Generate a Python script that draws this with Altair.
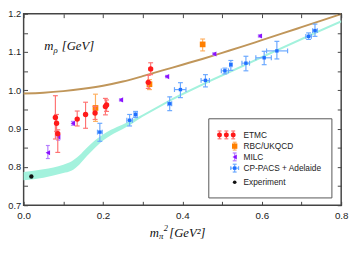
import altair as alt
import pandas as pd

# ---------------- data ----------------
etmc_x = [0.080, 0.083, 0.086, 0.135, 0.156, 0.180, 0.206, 0.209, 0.314, 0.320]
etmc_y = [0.929, 0.914, 0.887, 0.925, 0.937, 0.941, 0.958, 0.962, 1.021, 1.056]
etmc_lo = [0.873, 0.893, 0.838, 0.907, 0.901, 0.924, 0.936, 0.945, 1.005, 1.041]
etmc_hi = [0.986, 0.937, 0.897, 0.946, 0.969, 0.958, 0.979, 0.975, 1.039, 1.072]

rbc_x = [0.181, 0.317, 0.451]
rbc_y = [0.954, 1.016, 1.120]
rbc_lo = [0.919, 1.002, 1.103]
rbc_hi = [0.990, 1.028, 1.134]

milc_x = [0.061, 0.087, 0.124, 0.245, 0.361, 0.480, 0.595]
milc_y = [0.837, 0.878, 0.914, 0.975, 1.036, 1.095, 1.142]
milc_lo = [0.822, 0.870, 0.909, 0.972, 1.033, 1.092, 1.139]
milc_hi = [0.856, 0.890, 0.919, 0.978, 1.039, 1.098, 1.145]

cp_x = [0.192, 0.267, 0.282, 0.368, 0.395, 0.458, 0.507, 0.522, 0.560, 0.606, 0.638, 0.718, 0.734]
cp_xlo = [0.186, 0.260, 0.278, 0.363, 0.380, 0.447, 0.498, 0.519, 0.550, 0.585, 0.612, 0.711, 0.728]
cp_xhi = [0.198, 0.274, 0.286, 0.373, 0.409, 0.468, 0.516, 0.525, 0.569, 0.624, 0.665, 0.725, 0.740]
cp_y = [0.891, 0.922, 0.937, 0.965, 1.002, 1.026, 1.051, 1.067, 1.071, 1.085, 1.103, 1.141, 1.156]
cp_ylo = [0.867, 0.907, 0.929, 0.947, 0.981, 1.009, 1.043, 1.052, 1.051, 1.067, 1.082, 1.133, 1.141]
cp_yhi = [0.914, 0.937, 0.945, 0.983, 1.020, 1.041, 1.058, 1.078, 1.089, 1.102, 1.128, 1.150, 1.173]

exp_x = [0.0195]
exp_y = [0.775]

brown_x = [0.0, 0.05, 0.1, 0.15, 0.2, 0.25, 0.3, 0.35, 0.4, 0.45, 0.5, 0.55, 0.6, 0.65, 0.7, 0.75, 0.8]
brown_y = [0.992, 0.994, 0.998, 1.004, 1.012, 1.023, 1.037, 1.052, 1.067, 1.082, 1.098, 1.114, 1.131, 1.148, 1.165, 1.182, 1.199]

band_x = [0.0, 0.05, 0.1, 0.12, 0.14, 0.16, 0.18, 0.2, 0.22, 0.25, 0.27, 0.3, 0.35, 0.4, 0.45, 0.5, 0.6, 0.7, 0.8]
band_lo = [0.765, 0.772, 0.784, 0.790, 0.806, 0.829, 0.850, 0.869, 0.883, 0.899, 0.911, 0.931, 0.960, 0.987, 1.012, 1.036, 1.084, 1.131, 1.177]
band_hi = [0.787, 0.794, 0.806, 0.814, 0.830, 0.851, 0.870, 0.885, 0.897, 0.911, 0.921, 0.937, 0.966, 0.993, 1.018, 1.042, 1.090, 1.137, 1.183]

legend_labels = ["ETMC", "RBC/UKQCD", "MILC", "CP-PACS + Adelaide", "Experiment"]

x_label_vals = [0.0, 0.2, 0.4, 0.6, 0.8]
x_tick_vals = [0.0, 0.1, 0.2, 0.3, 0.4, 0.5, 0.6, 0.7, 0.8]
y_label_vals = [0.7, 0.8, 0.9, 1.0, 1.1, 1.2]
y_tick_vals = [0.7, 0.75, 0.8, 0.85, 0.9, 0.95, 1.0, 1.05, 1.1, 1.15, 1.2]

# ---------------- styling ----------------
W, H = 325, 196
CYAN = "#a3f2dd"
BROWN = "#c0965a"
RED, RED_E = "#ff1a1a", "#ff7373"
ORG, ORG_E = "#ff7f00", "#ffb060"
PUR, PUR_E = "#8a12ff", "#b47cff"
BLU, BLU_E = "#1f6fff", "#6aa8ff"
TICK_C = "#444444"

xs = alt.Scale(domain=[0.0, 0.8], nice=False, zero=False)
ys = alt.Scale(domain=[0.7, 1.2], nice=False, zero=False)

ax_x_main = alt.Axis(orient="bottom", values=x_label_vals, format=".1f", ticks=False, tickSize=0,
                     domain=False, grid=False, title=None, labelFont="Liberation Sans", labelFlush=False,
                     labelFontSize=10, labelPadding=6, labelColor="#222222")
ax_x_bot = alt.Axis(orient="top", offset=-H, values=x_tick_vals, labels=False, ticks=True, tickSize=4,
                    tickColor=TICK_C, tickWidth=1, domain=False, grid=False, title=None, zindex=1)
ax_x_top = alt.Axis(orient="bottom", offset=-H, values=x_tick_vals, labels=False, ticks=True, tickSize=4,
                    tickColor=TICK_C, tickWidth=1, domain=False, grid=False, title=None, zindex=1)
ax_y_main = alt.Axis(orient="left", values=y_label_vals, format=".1f", ticks=False, tickSize=0,
                     domain=False, grid=False, title=None, labelFont="Liberation Sans", labelFlush=False,
                     labelFontSize=9.5, labelPadding=3, labelColor="#222222")
ax_y_left = alt.Axis(orient="right", offset=-W, values=y_tick_vals, labels=False, ticks=True, tickSize=4,
                     tickColor=TICK_C, tickWidth=1, domain=False, grid=False, title=None, zindex=1)
ax_y_right = alt.Axis(orient="left", offset=-W, values=y_tick_vals, labels=False, ticks=True, tickSize=4,
                      tickColor=TICK_C, tickWidth=1, domain=False, grid=False, title=None, zindex=1)

band_df = pd.DataFrame({"x": band_x, "lo": band_lo, "hi": band_hi})
brown_df = pd.DataFrame({"x": brown_x, "y": brown_y})
etmc_df = pd.DataFrame({"x": etmc_x, "y": etmc_y, "lo": etmc_lo, "hi": etmc_hi})
rbc_df = pd.DataFrame({"x": rbc_x, "y": rbc_y, "lo": rbc_lo, "hi": rbc_hi})
milc_df = pd.DataFrame({"x": milc_x, "y": milc_y, "lo": milc_lo, "hi": milc_hi})
cp_df = pd.DataFrame({"x": cp_x, "xlo": cp_xlo, "xhi": cp_xhi, "y": cp_y, "lo": cp_ylo, "hi": cp_yhi})
exp_df = pd.DataFrame({"x": exp_x, "y": exp_y})
one = pd.DataFrame({"a": [0]})


def X(f, axis=None):
    return alt.X(f, type="quantitative", scale=xs, axis=axis)


def Y(f, axis=None):
    return alt.Y(f, type="quantitative", scale=ys, axis=axis)


def vbars(df, color, cap=5, sw=1.2):
    rule = alt.Chart(df).mark_rule(color=color, strokeWidth=sw).encode(x=X("x"), y=Y("lo"), y2="hi:Q")
    caps = alt.Chart(df).transform_fold(["lo", "hi"], as_=["k", "v"]).mark_tick(
        orient="horizontal", color=color, size=cap, thickness=sw, opacity=1).encode(x=X("x"), y=Y("v"))
    return [rule, caps]


def hbars(df, color, cap=5, sw=1.2):
    rule = alt.Chart(df).mark_rule(color=color, strokeWidth=sw).encode(x=X("xlo"), x2="xhi:Q", y=Y("y"))
    caps = alt.Chart(df).transform_fold(["xlo", "xhi"], as_=["k", "v"]).mark_tick(
        orient="vertical", color=color, size=cap, thickness=sw, opacity=1).encode(x=X("v"), y=Y("y"))
    return [rule, caps]


layers = []
layers.append(alt.Chart(band_df).mark_area(color=CYAN, interpolate="monotone", opacity=1).encode(
    x=X("x", ax_x_main), y=Y("lo", ax_y_main), y2="hi:Q"))
layers.append(alt.Chart(brown_df).mark_line(color=BROWN, strokeWidth=2, interpolate="monotone").encode(
    x=X("x", ax_x_bot), y=Y("y", ax_y_left)))

layers += vbars(milc_df, PUR_E, 4)
layers.append(alt.Chart(milc_df).mark_point(shape="triangle-left", filled=True, color=PUR, size=28, opacity=1).encode(
    x=X("x"), y=Y("y")))
layers += hbars(cp_df, BLU_E, 5)
layers += vbars(cp_df, BLU_E, 5)
layers.append(alt.Chart(cp_df).mark_square(color=BLU, size=12, opacity=1).encode(x=X("x"), y=Y("y")))
layers += vbars(rbc_df, ORG_E, 5)
layers.append(alt.Chart(rbc_df).mark_square(color=ORG, size=34, opacity=1).encode(x=X("x"), y=Y("y")))
layers += vbars(etmc_df, RED_E, 5)
layers.append(alt.Chart(etmc_df).mark_circle(color=RED, size=30, opacity=1).encode(x=X("x"), y=Y("y")))
layers.append(alt.Chart(exp_df).mark_circle(color="#111111", size=20, opacity=1).encode(
    x=X("x", ax_x_top), y=Y("y", ax_y_right)))

# ---------------- annotations (pixel positions inside the plot group) ----------------
SERIF = "Liberation Serif"


def txt(t, xp, yp, size, font=SERIF, style="italic", color="#111111"):
    return alt.Chart(one).mark_text(text=t, font=font, fontStyle=style, fontSize=size, align="left",
                                    baseline="alphabetic", color=color).encode(x=alt.value(xp), y=alt.value(yp))


# m_rho [GeV]
layers.append(txt("m", 21, 37, 13))
layers.append(txt("ρ", 30.5, 40, 9))
layers.append(txt("[GeV]", 39, 37, 13))
# m_pi^2 [GeV^2]
layers.append(txt("m", 129, 228, 13))
layers.append(txt("π", 138.5, 231, 9))
layers.append(txt("2", 143.5, 222, 8.5))
layers.append(txt("[GeV²]", 149, 228, 13))

# ---------------- legend ----------------
LX0, LX1, LY0, LY1 = 189.5, 315.5, 107.5, 188.5
layers.append(alt.Chart(one).mark_rect(fill="white", stroke="#555555", strokeWidth=1).encode(
    x=alt.value(LX0), x2=alt.value(LX1), y=alt.value(LY0), y2=alt.value(LY1)))
rows = [124, 135.5, 146.5, 158, 172.5]
SX, TX = 216, 225
for lab, ry in zip(legend_labels, rows):
    layers.append(txt(lab, TX, ry + 3, 8.5, font="Liberation Sans", style="normal", color="#222222"))


def lsym_vbar(xp, yp, color, half=4, cap=2):
    return [
        alt.Chart(one).mark_rule(color=color, strokeWidth=1.2).encode(
            x=alt.value(xp), y=alt.value(yp - half), y2=alt.value(yp + half)),
        alt.Chart(one).mark_rule(color=color, strokeWidth=1.2).encode(
            x=alt.value(xp - cap), x2=alt.value(xp + cap), y=alt.value(yp - half)),
        alt.Chart(one).mark_rule(color=color, strokeWidth=1.2).encode(
            x=alt.value(xp - cap), x2=alt.value(xp + cap), y=alt.value(yp + half)),
    ]


def lsym_hbar(xp, yp, color, half=4, cap=2):
    return [
        alt.Chart(one).mark_rule(color=color, strokeWidth=1.2).encode(
            x=alt.value(xp - half), x2=alt.value(xp + half), y=alt.value(yp)),
        alt.Chart(one).mark_rule(color=color, strokeWidth=1.2).encode(
            x=alt.value(xp - half), y=alt.value(yp - cap), y2=alt.value(yp + cap)),
        alt.Chart(one).mark_rule(color=color, strokeWidth=1.2).encode(
            x=alt.value(xp + half), y=alt.value(yp - cap), y2=alt.value(yp + cap)),
    ]


def lsym(xp, yp, shape, color, size):
    return alt.Chart(one).mark_point(shape=shape, filled=True, color=color, size=size, opacity=1).encode(
        x=alt.value(xp), y=alt.value(yp))


for ex in [200.5, 207.5, 214.5]:
    layers += lsym_vbar(ex, rows[0], RED_E)
    layers.append(lsym(ex, rows[0], "circle", RED, 26))
layers += lsym_vbar(SX, rows[1], ORG_E)
layers.append(lsym(SX, rows[1], "square", ORG, 30))
layers += lsym_vbar(SX, rows[2], PUR_E)
layers.append(lsym(SX, rows[2], "triangle-left", PUR, 26))
layers += lsym_vbar(SX, rows[3], BLU_E)
layers += lsym_hbar(SX, rows[3], BLU_E)
layers.append(lsym(SX, rows[3], "square", BLU, 12))
layers.append(lsym(SX, rows[4], "circle", "#111111", 14))

chart = alt.layer(*layers).resolve_axis(x="independent", y="independent").properties(
    width=W, height=H,
    autosize=alt.AutoSizeParams(type="none"),
    padding={"left": 16, "top": 3, "right": 8, "bottom": 47},
).configure_view(stroke="#444444", strokeWidth=1.5)

chart.save("out.html", embed_options={"renderer": "svg", "actions": False})
